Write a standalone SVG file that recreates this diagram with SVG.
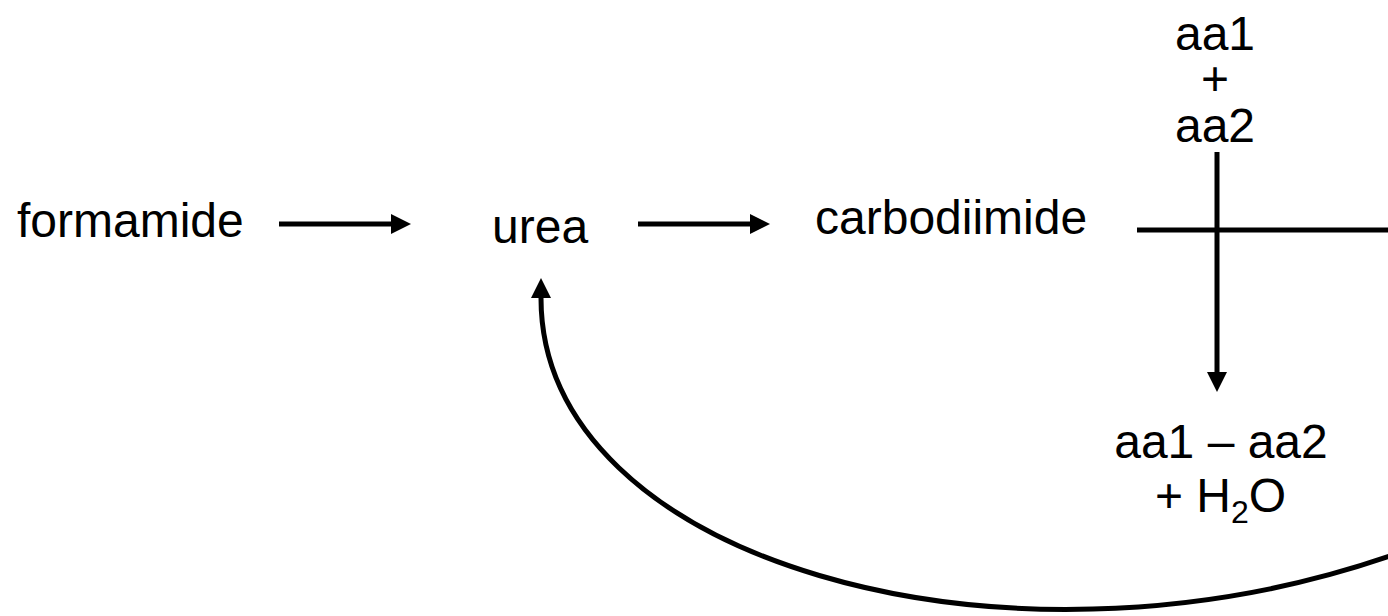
<svg xmlns="http://www.w3.org/2000/svg" width="1388" height="616" viewBox="0 0 1388 616">
<style>
text{font-family:"Liberation Sans",Arial,sans-serif;font-size:48px;fill:#000}
.c{stroke:#000;stroke-width:5;fill:none}
</style>
<defs>
<marker id="ah" markerUnits="userSpaceOnUse" markerWidth="20" markerHeight="20" viewBox="0 0 18 18" refX="0" refY="9" orient="auto">
<path d="M0,0 L18,9 L0,18 Z" fill="#000"/>
</marker>
</defs>
<rect width="1388" height="616" fill="#fff"/>
<g id="formamide"><text x="17" y="237">formamide</text></g>
<g id="urea"><text x="492" y="243">urea</text></g>
<g id="carbodiimide"><text x="815" y="234">carbodiimide</text></g>
<g id="aa1aa2"><text text-anchor="middle"><tspan x="1215" y="50">aa1</tspan><tspan x="1215" y="95">+</tspan><tspan x="1215" y="142">aa2</tspan></text></g>
<g id="product"><text><tspan x="1221" y="458" text-anchor="middle">aa1 – aa2</tspan><tspan x="1155" y="512">+ H</tspan><tspan dy="11" font-size="32px">2</tspan><tspan dy="-11">O</tspan></text></g>
<g id="connectors">
<line class="c" x1="279" y1="224" x2="391" y2="224" marker-end="url(#ah)"/>
<line class="c" x1="638" y1="224" x2="750" y2="224" marker-end="url(#ah)"/>
<line class="c" x1="1137" y1="230" x2="1388" y2="230"/>
<line class="c" x1="1217" y1="152" x2="1217" y2="372" marker-end="url(#ah)"/>
<path class="c" d="M1390,556 C1000,690 541,560 541,298" marker-end="url(#ah)"/>
</g>
</svg>
